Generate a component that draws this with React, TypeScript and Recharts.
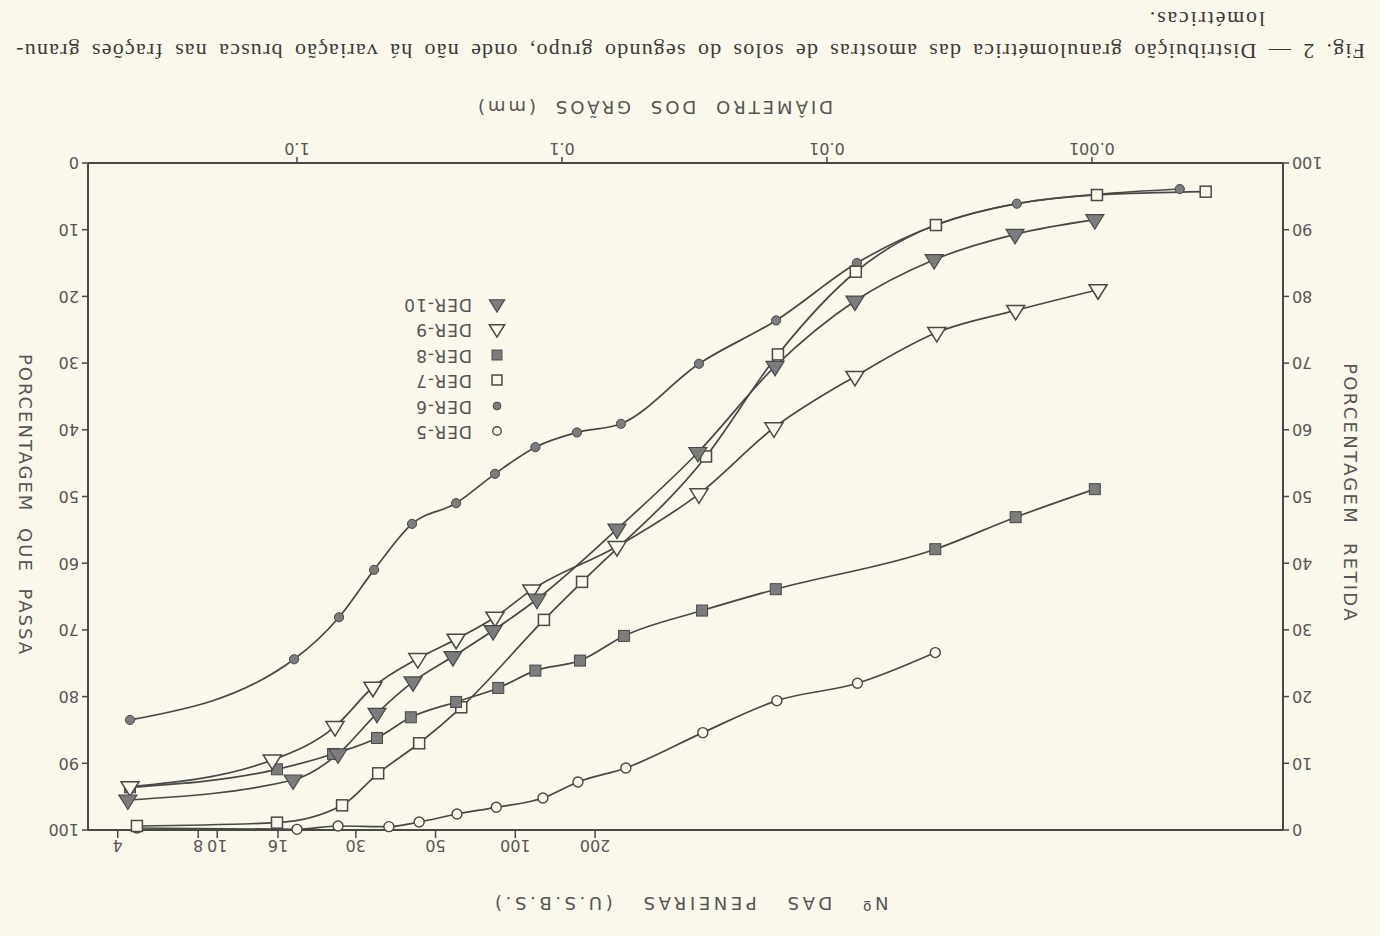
import React from "react";
import { LineChart, Line, XAxis, YAxis, Legend } from "recharts";

// Grain diameter (mm) vs. percentage passing (%)
const der5 = [
  { d: 4.02, p: 99.7 }, { d: 1.0, p: 99.9 }, { d: 0.7, p: 99.4 }, { d: 0.45, p: 99.5 },
  { d: 0.346, p: 98.8 }, { d: 0.249, p: 97.6 }, { d: 0.177, p: 96.6 }, { d: 0.118, p: 95.2 },
  { d: 0.087, p: 92.8 }, { d: 0.0574, p: 90.7 }, { d: 0.0294, p: 85.4 }, { d: 0.01545, p: 80.6 },
  { d: 0.00767, p: 78.0 }, { d: 0.0039, p: 73.4 },
];
const der6 = [
  { d: 4.27, p: 83.5 }, { d: 1.026, p: 74.4 }, { d: 0.694, p: 68.1 }, { d: 0.512, p: 61.0 },
  { d: 0.368, p: 54.1 }, { d: 0.251, p: 51.0 }, { d: 0.179, p: 46.6 }, { d: 0.126, p: 42.6 },
  { d: 0.0878, p: 40.4 }, { d: 0.0599, p: 39.1 }, { d: 0.0304, p: 30.1 }, { d: 0.01556, p: 23.6 },
  { d: 0.00771, p: 15.0 }, { d: 0.00388, p: 9.3 }, { d: 0.00192, p: 6.1 }, { d: 0.000957, p: 4.7 },
  { d: 0.000466, p: 3.9 },
];
const der7 = [
  { d: 4.02, p: 99.4 }, { d: 1.19, p: 98.9 }, { d: 0.676, p: 96.3 }, { d: 0.494, p: 91.5 },
  { d: 0.346, p: 87.0 }, { d: 0.24, p: 81.6 }, { d: 0.117, p: 68.5 }, { d: 0.084, p: 62.8 },
  { d: 0.0286, p: 44.0 }, { d: 0.01531, p: 28.7 }, { d: 0.00778, p: 16.3 }, { d: 0.00388, p: 9.3 },
  { d: 0.000957, p: 4.8 }, { d: 0.000372, p: 4.3 },
];
const der8 = [
  { d: 4.27, p: 93.6 }, { d: 1.19, p: 90.9 }, { d: 0.731, p: 88.6 }, { d: 0.499, p: 86.2 },
  { d: 0.372, p: 83.1 }, { d: 0.251, p: 80.8 }, { d: 0.174, p: 78.7 }, { d: 0.126, p: 76.1 },
  { d: 0.0855, p: 74.6 }, { d: 0.0583, p: 70.9 }, { d: 0.0296, p: 67.1 }, { d: 0.0156, p: 63.9 },
  { d: 0.0039, p: 57.9 }, { d: 0.00194, p: 53.1 }, { d: 0.000975, p: 48.9 },
];
const der9 = [
  { d: 4.27, p: 93.5 }, { d: 1.24, p: 89.5 }, { d: 0.719, p: 84.5 }, { d: 0.517, p: 78.6 },
  { d: 0.35, p: 74.3 }, { d: 0.251, p: 71.4 }, { d: 0.179, p: 68.1 }, { d: 0.13, p: 64.0 },
  { d: 0.062, p: 57.5 }, { d: 0.0304, p: 49.6 }, { d: 0.01585, p: 39.7 }, { d: 0.00784, p: 32.0 },
  { d: 0.00385, p: 25.4 }, { d: 0.00194, p: 22.1 }, { d: 0.000948, p: 19.0 },
];
const der10 = [
  { d: 4.35, p: 95.5 }, { d: 1.035, p: 92.5 }, { d: 0.7, p: 88.6 }, { d: 0.499, p: 82.5 },
  { d: 0.365, p: 77.8 }, { d: 0.258, p: 74.0 }, { d: 0.182, p: 70.1 }, { d: 0.1243, p: 65.4 },
  { d: 0.062, p: 54.9 }, { d: 0.0307, p: 43.4 }, { d: 0.0157, p: 30.5 }, { d: 0.00784, p: 20.7 },
  { d: 0.00394, p: 14.5 }, { d: 0.00195, p: 10.7 }, { d: 0.000975, p: 8.5 },
];

const diamTicks = [0.001, 0.01, 0.1, 1];
const diamLabels = ["0.001", "0.01", "0.1", "1.0"];
const sieveSizes = [4.75, 2.36, 2.0, 1.18, 0.6, 0.3, 0.15, 0.075];
const sieveLabels = ["4", "8", "10", "16", "30", "50", "100", "200"];
const pctTicks = [0, 10, 20, 30, 40, 50, 60, 70, 80, 90, 100];

const DMIN = 0.00019;
const DMAX = 6.15;

const PAPER = "#faf8ea";
const INK = "#484848";
const FILL = "#7c7c7c";
const TXT = "#555";

type Kind = "circleOpen" | "circleFilled" | "squareOpen" | "squareFilled" | "triOpen" | "triFilled";

const series: { name: string; data: { d: number; p: number }[]; kind: Kind }[] = [
  { name: "DER-5", data: der5, kind: "circleOpen" },
  { name: "DER-6", data: der6, kind: "circleFilled" },
  { name: "DER-7", data: der7, kind: "squareOpen" },
  { name: "DER-8", data: der8, kind: "squareFilled" },
  { name: "DER-9", data: der9, kind: "triOpen" },
  { name: "DER-10", data: der10, kind: "triFilled" },
];

function Marker({ kind, cx, cy, s = 1 }: { kind: Kind; cx: number; cy: number; s?: number }) {
  switch (kind) {
    case "circleOpen":
      return <circle cx={cx} cy={cy} r={5 * s} fill={PAPER} stroke={INK} strokeWidth={1.4} />;
    case "circleFilled":
      return <circle cx={cx} cy={cy} r={4.6 * s} fill={FILL} stroke={INK} strokeWidth={1} />;
    case "squareOpen":
      return <rect x={cx - 5.5 * s} y={cy - 5.5 * s} width={11 * s} height={11 * s} fill={PAPER} stroke={INK} strokeWidth={1.5} />;
    case "squareFilled":
      return <rect x={cx - 5.5 * s} y={cy - 5.5 * s} width={11 * s} height={11 * s} fill={FILL} stroke={INK} strokeWidth={1} />;
    case "triOpen":
      return (
        <polygon
          points={`${cx},${cy - 9.5 * s} ${cx - 9 * s},${cy + 5 * s} ${cx + 9 * s},${cy + 5 * s}`}
          fill={PAPER}
          stroke={INK}
          strokeWidth={1.5}
        />
      );
    case "triFilled":
      return (
        <polygon
          points={`${cx},${cy - 9.5 * s} ${cx - 9 * s},${cy + 5 * s} ${cx + 9 * s},${cy + 5 * s}`}
          fill={FILL}
          stroke={INK}
          strokeWidth={1.2}
        />
      );
  }
  return null;
}

const makeDot = (kind: Kind, name: string) => (props: any) => {
  const { cx, cy, index } = props;
  if (cx == null || cy == null) return <g key={`${name}-${index}`} />;
  return (
    <g key={`${name}-${index}`}>
      <Marker kind={kind} cx={cx} cy={cy} />
    </g>
  );
};

const fmtFrom = (vals: number[], labels: string[]) => (v: number) => {
  const i = vals.findIndex((x) => Math.abs(x - v) / x < 1e-6);
  return i >= 0 ? labels[i] : "";
};

const tickStyle = { fill: TXT, fontSize: 16, fontFamily: "DejaVu Sans" };

const legendOrder: { name: string; kind: Kind }[] = series.map((s) => ({ name: s.name, kind: s.kind }));

function LegendBox() {
  return (
    <div style={{ fontFamily: "DejaVu Sans", fontSize: 17, color: TXT }}>
      {legendOrder.map((it) => (
        <div key={it.name} style={{ display: "flex", alignItems: "center", height: 25.5 }}>
          <svg width={28} height={24} style={{ display: "block" }}>
            <Marker kind={it.kind} cx={13} cy={13} s={it.kind.startsWith("square") ? 0.9 : 0.85} />
          </svg>
          <span style={{ marginLeft: 10, letterSpacing: 1 }}>{it.name}</span>
        </div>
      ))}
    </div>
  );
}

const axisLineStyle = { stroke: INK, strokeWidth: 2 };
const tickLineStyle = { stroke: INK, strokeWidth: 1.5 };

export default function App() {
  return (
    <div
      style={{
        position: "absolute",
        left: 0,
        top: 0,
        width: 1380,
        height: 936,
        background: PAPER,
        transform: "rotate(180deg)",
        overflow: "hidden",
      }}
    >
      <div style={{ position: "absolute", left: 0, top: 0 }}>
        <LineChart width={1380} height={936} margin={{ top: 66, right: 38, bottom: 123, left: 47 }}>
          <XAxis
            xAxisId="d"
            dataKey="d"
            type="number"
            scale="log"
            domain={[DMIN, DMAX]}
            allowDataOverflow
            ticks={diamTicks}
            interval={0}
            tickFormatter={fmtFrom(diamTicks, diamLabels)}
            orientation="bottom"
            height={40}
            tickSize={6}
            tickMargin={3}
            tick={tickStyle}
            axisLine={axisLineStyle}
            tickLine={tickLineStyle}
          />
          <XAxis
            xAxisId="s"
            dataKey="d"
            type="number"
            scale="log"
            domain={[DMIN, DMAX]}
            allowDataOverflow
            ticks={sieveSizes}
            interval={0}
            tickFormatter={fmtFrom(sieveSizes, sieveLabels)}
            orientation="top"
            height={40}
            tickSize={8}
            tickMargin={2}
            tick={tickStyle}
            axisLine={axisLineStyle}
            tickLine={tickLineStyle}
          />
          <YAxis
            yAxisId="r"
            orientation="left"
            type="number"
            domain={[0, 100]}
            reversed
            ticks={pctTicks}
            interval={0}
            width={50}
            tickSize={6}
            tickMargin={3}
            tick={tickStyle}
            axisLine={axisLineStyle}
            tickLine={tickLineStyle}
          />
          <YAxis
            yAxisId="p"
            orientation="right"
            type="number"
            domain={[0, 100]}
            ticks={pctTicks}
            interval={0}
            width={50}
            tickSize={6}
            tickMargin={3}
            tick={tickStyle}
            axisLine={axisLineStyle}
            tickLine={tickLineStyle}
          />
          <Line
            xAxisId="s"
            yAxisId="r"
            data={der5}
            dataKey="p"
            stroke="none"
            dot={false}
            activeDot={false}
            legendType="none"
            isAnimationActive={false}
          />
          {series.map((s) => (
            <Line
              key={s.name}
              name={s.name}
              xAxisId="d"
              yAxisId="p"
              data={s.data}
              dataKey="p"
              type="monotone"
              stroke={INK}
              strokeWidth={1.7}
              dot={makeDot(s.kind, s.name)}
              activeDot={false}
              isAnimationActive={false}
            />
          ))}
          <Legend
            layout="vertical"
            align="center"
            verticalAlign="middle"
            content={() => <LegendBox />}
            wrapperStyle={{ position: "absolute", left: 870, top: 491, width: 150, height: 160 }}
          />
        </LineChart>
      </div>

      {/* axis titles */}
      <div
        style={{
          position: "absolute",
          left: 726,
          top: 829,
          transform: "translate(-50%, -50%)",
          fontFamily: "DejaVu Sans",
          fontSize: 18,
          letterSpacing: 3,
          wordSpacing: 8,
          color: TXT,
          whiteSpace: "nowrap",
        }}
      >
        DIÂMETRO DOS GRÃOS (mm)
      </div>
      <div
        style={{
          position: "absolute",
          left: 690,
          top: 33,
          transform: "translate(-50%, -50%)",
          fontFamily: "DejaVu Sans",
          fontSize: 18,
          letterSpacing: 3.6,
          wordSpacing: 18,
          color: TXT,
          whiteSpace: "nowrap",
        }}
      >
        Nº DAS PENEIRAS (U.S.B.S.)
      </div>
      <div
        style={{
          position: "absolute",
          left: 1355,
          top: 431,
          transform: "translate(-50%, -50%) rotate(-90deg)",
          fontFamily: "DejaVu Sans",
          fontSize: 18,
          letterSpacing: 2,
          wordSpacing: 8,
          color: TXT,
          whiteSpace: "nowrap",
        }}
      >
        PORCENTAGEM QUE PASSA
      </div>
      <div
        style={{
          position: "absolute",
          left: 30,
          top: 443,
          transform: "translate(-50%, -50%) rotate(-90deg)",
          fontFamily: "DejaVu Sans",
          fontSize: 18,
          letterSpacing: 2.3,
          wordSpacing: 10,
          color: TXT,
          whiteSpace: "nowrap",
        }}
      >
        PORCENTAGEM RETIDA
      </div>

      {/* caption */}
      <div
        style={{
          position: "absolute",
          left: 15,
          top: 872,
          width: 1350,
          fontFamily: "Liberation Serif",
          fontSize: 22,
          color: "#3a3a3a",
          textAlign: "justify",
          textAlignLast: "justify" as any,
          whiteSpace: "nowrap",
          letterSpacing: 1.2,
        }}
      >
        Fig. 2 — Distribuição granulométrica das amostras de solos do segundo grupo, onde não há variação brusca nas frações granu-
      </div>
      <div
        style={{
          position: "absolute",
          left: 115,
          top: 904,
          fontFamily: "Liberation Serif",
          fontSize: 22,
          color: "#3a3a3a",
          whiteSpace: "nowrap",
          letterSpacing: 1.8,
        }}
      >
        lométricas.
      </div>
    </div>
  );
}
